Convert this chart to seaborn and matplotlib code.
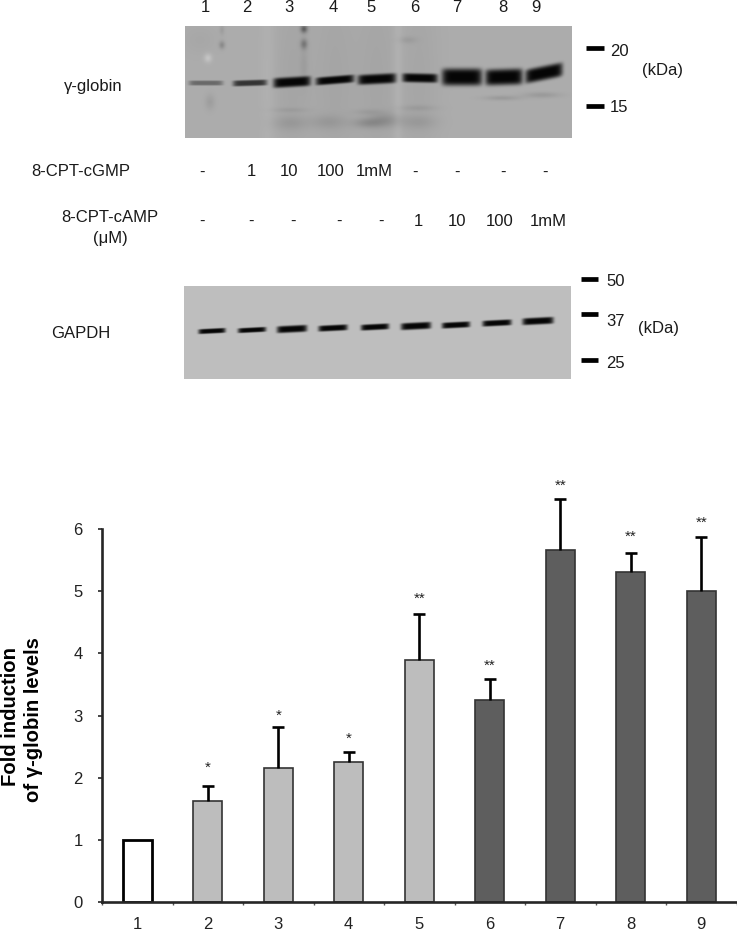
import numpy as np
import pandas as pd
import matplotlib
matplotlib.use("Agg")
import matplotlib.pyplot as plt
import seaborn as sns

W, H = 737, 932

# bar chart values
lanes = ["1", "2", "3", "4", "5", "6", "7", "8", "9"]
fold = [1.0, 1.62, 2.16, 2.25, 3.9, 3.25, 5.67, 5.31, 5.0]
err_top = [np.nan, 1.86, 2.81, 2.41, 4.64, 3.58, 6.48, 5.62, 5.87]
stars = ["", "*", "*", "*", "**", "**", "**", "**", "**"]
star_y = [np.nan, 2.19, 3.02, 2.65, 4.9, 3.83, 6.72, 5.9, 6.13]
group = ["ctrl", "cgmp", "cgmp", "cgmp", "cgmp", "camp", "camp", "camp", "camp"]

# blot bands, in image pixels
gl_x = [206, 250, 292, 335, 377, 420, 462, 504, 544]
gl_y = [83, 83, 82, 80, 79, 78, 77, 77, 73]
gl_w = [34, 34, 37, 38, 38, 35, 40, 37, 37]
gl_h = [5, 6, 10, 8, 10, 9, 17, 16, 14]
gl_dark = [0.4, 0.72, 1, 1, 1, 1, 1, 1, 1]
gl_tilt = [0, -0.03, -0.06, -0.08, -0.05, 0.02, 0, -0.03, -0.2]

ga_x = [212, 252, 292, 333, 375, 416, 456, 497, 538]
ga_y = [331, 330, 329, 328, 327, 326, 325, 323, 321]
ga_w = [27, 28, 30, 29, 28, 30, 28, 29, 31]
ga_h = [5, 5, 7, 6, 6, 7, 6, 6, 7]

# faint marks on the gamma-globin blot: x, y, width, height, strength
sm_x = [304, 304, 222, 222, 208, 210, 290, 328, 368, 385, 418, 290, 368, 418,
        502, 542, 408, 398, 268, 200, 292, 335, 377, 420, 304]
sm_y = [29, 44, 45, 30, 58, 102, 123, 122, 123, 120, 122, 110, 112, 108,
        98, 95, 40, 80, 80, 40, 80, 80, 80, 80, 65]
sm_w = [7, 7, 6, 5, 8, 10, 34, 36, 30, 30, 36, 36, 30, 36,
        36, 36, 18, 10, 14, 36, 40, 42, 42, 40, 8]
sm_h = [8, 10, 8, 10, 9, 16, 14, 14, 10, 14, 14, 5, 6, 6,
        5, 6, 7, 240, 240, 30, 240, 240, 240, 240, 40]
sm_s = [70, 45, 32, 14, -24, 14, 14, 15, 24, 22, 14, 10, 10, 12,
        18, 18, 12, -8, -5, 5, 7, 7, 7, 6, 10]

row_cgmp = ["-", "1", "10", "100", "1mM", "-", "-", "-", "-"]
row_cgmp_x = [202, 251, 289, 331, 374, 415, 457, 503, 545]
row_camp = ["-", "-", "-", "-", "-", "1", "10", "100", "1mM"]
row_camp_x = [202, 251, 293, 339, 381, 418, 457, 500, 548]
lane_x = [205, 247, 289, 333, 371, 415, 457, 503, 536]

mw1 = ["20", "15"]
mw1_y = [47, 105]
mw2 = ["50", "37", "25"]
mw2_y = [279, 314, 360]

df = pd.DataFrame({"lane": lanes, "fold": fold, "group": group})

sns.set_theme(style="ticks")
plt.rcParams['font.family'] = ['Liberation Sans', 'DejaVu Sans']


def px_axes(x0, y0, x1, y1):
    return fig.add_axes([x0 / W, 1 - y1 / H, (x1 - x0) / W, (y1 - y0) / H])


def blot(x0, y0, x1, y1, base, xs, ys, ws, hs, dark=None, tilt=None, smears=None):
    xx, yy = np.meshgrid(np.arange(x0, x1) + 0.5, np.arange(y0, y1) + 0.5)
    img = np.full(xx.shape, float(base))
    if smears:
        for sx, sy, sw, sh, s in zip(*smears):
            img -= s * np.exp(-((xx - sx) / (sw / 2)) ** 2 - ((yy - sy) / (sh / 2)) ** 2)
    for i in range(len(xs)):
        d = dark[i] if dark else 1
        t = tilt[i] if tilt else -0.05
        yc = ys[i] + t * (xx - xs[i])
        band = np.exp(-((xx - xs[i]) / (ws[i] / 2)) ** 8 - ((yy - yc) / (hs[i] / 2)) ** 4)
        img = img * (1 - d * band) + 5 * d * band
    ax = px_axes(x0, y0, x1, y1)
    sns.heatmap(img, ax=ax, cmap="gray", vmin=0, vmax=255, cbar=False,
                xticklabels=False, yticklabels=False, rasterized=True)
    ax.axis("off")


fig = plt.figure(figsize=(W / 100, H / 100), dpi=100)

blot(185, 26, 572, 138, 172, gl_x, gl_y, gl_w, gl_h, gl_dark, gl_tilt,
     (sm_x, sm_y, sm_w, sm_h, sm_s))
blot(184, 286, 571, 379, 190, ga_x, ga_y, ga_w, ga_h)

# overlay for the blot annotations, in image pixels
ov = fig.add_axes([0, 0, 1, 1], zorder=5)
ov.set_xlim(0, W)
ov.set_ylim(H, 0)
ov.axis("off")


def label(x, y, s, ha="center", size=12):
    ov.text(x, y, s, ha=ha, va="center", fontsize=size, color="#1a1a1a")


for x, s in zip(lane_x, lanes):
    label(x, 7, s)
for x, s in zip(row_cgmp_x, row_cgmp):
    label(x, 172, s)
for x, s in zip(row_camp_x, row_camp):
    label(x, 221, s)

label(93, 86, "γ-globin")
label(81, 172, "8-CPT-cGMP")
label(110, 218, "8-CPT-cAMP")
label(110, 238, "(μM)")
label(81, 334, "GAPDH")
label(663, 70, "(kDa)")
label(659, 329, "(kDa)")

for y, s in zip(mw1_y, mw1):
    ov.plot([586, 604], [y + 1, y + 1], color="black", lw=3.4, solid_capstyle="butt")
    label(610, y + 4 if s == "20" else y + 2, s, ha="left")
for y, s, off in zip(mw2_y, mw2, [2, 7, 4]):
    ov.plot([581, 598], [y, y], color="black", lw=3.4, solid_capstyle="butt")
    label(606, y + off, s, ha="left")

# bar chart
ax = px_axes(102, 529, 737, 902)
palette = {"ctrl": "white", "cgmp": "#bdbdbd", "camp": "#5e5e5e"}
sns.barplot(data=df, x="lane", y="fold", hue="group", palette=palette, dodge=False,
            legend=False, width=0.41, edgecolor="#333333", linewidth=1.2, ax=ax)
# control bar has the heavier outline
ctrl_bar = max([p for p in ax.patches], key=lambda p: p.get_facecolor()[0])
ctrl_bar.set_edgecolor("black")
ctrl_bar.set_linewidth(2)

upper = np.array(err_top) - np.array(fold)
eb = ax.errorbar(range(len(lanes)), fold, yerr=[np.zeros(len(upper)), upper], fmt="none",
                 ecolor="black", elinewidth=1.9, capsize=4.5, capthick=1.9, zorder=1, clip_on=False)
# only the upper cap is drawn
eb[1][0].set_visible(False)
for i, s in enumerate(stars):
    if s:
        ax.text(i, star_y[i] - 0.14, s, ha="center", va="bottom",
                fontsize=11, color="#222222", clip_on=False)

ax.set_xlim(-0.5, 8.5 + (737 - 102 - 9 * 70.5) / 70.5)
ax.set_ylim(0, 6)
ax.set_yticks(range(7))
ax.set_xticks(np.arange(-0.5, 9.5))
ax.set_xticklabels([])
ax.set_xticks(range(9), labels=lanes, minor=True)
ax.tick_params(axis="x", which="major", length=2, width=1, direction="out", color="#555555")
ax.tick_params(axis="x", which="minor", length=0, pad=11, labelsize=12, labelcolor="#222222")
ax.tick_params(axis="y", length=3, width=1.2, labelsize=12, pad=11, labelcolor="#222222")
ax.set_xlabel("")
ax.set_ylabel("")
sns.despine(ax=ax)
ax.spines["left"].set_linewidth(1.9)
ax.spines["bottom"].set_linewidth(1.9)
ax.patch.set_alpha(0)

ov.text(11, 717, "Fold induction", rotation=90, ha="center", va="center",
        fontsize=14.6, fontweight="bold", color="black")
ov.text(34, 720, "of γ-globin levels", rotation=90, ha="center", va="center",
        fontsize=14.6, fontweight="bold", color="black")

plt.savefig("out.png", dpi=100)
